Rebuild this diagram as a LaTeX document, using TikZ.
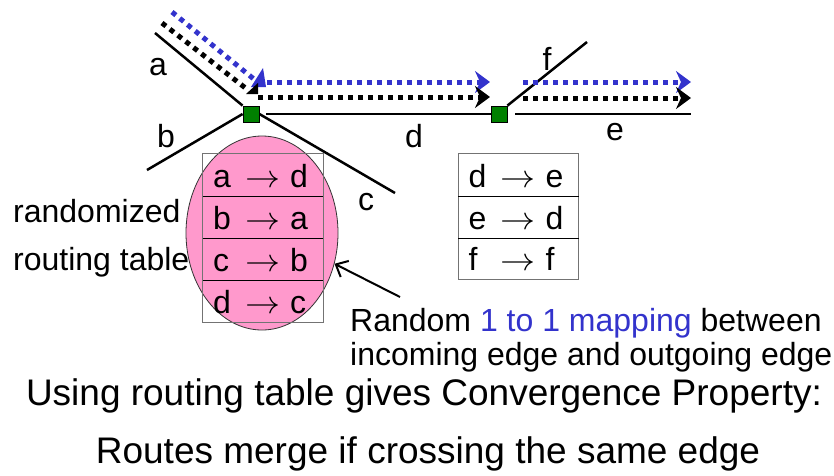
\documentclass[tikz,border=0pt]{standalone}
\usepackage{fontspec}
\setmainfont{Liberation Sans}
\usetikzlibrary{arrows.meta,shapes.geometric}
\definecolor{routeblue}{RGB}{51,51,204}
\definecolor{tablepink}{RGB}{255,153,204}
\definecolor{nodegreen}{RGB}{0,128,0}
\newcommand{\maparrow}{\scalebox{3.5}[3.2]{\fontsize{10}{12}\selectfont$\rightarrow$}}
\newcommand{\maprow}[2]{\makebox[120pt][l]{\hspace*{10pt}\makebox[32pt][l]{#1}\makebox[35pt]{\maparrow}\hspace*{10pt}#2}}
\begin{document}
\begin{tikzpicture}[x=1pt,y=-1pt,
  edge/.style={line width=2.5pt},
  router/.style={draw=black, line width=0.8pt, fill=nodegreen, minimum size=16pt, inner sep=0pt},
  route/.style={line width=5pt, dash pattern=on 5pt off 5pt,
    -{Stealth[length=15pt,width=22pt,inset=5pt]}},
  leg/.style={line width=5pt, dash pattern=on 5pt off 5pt},
  lbl/.style={font=\fontsize{32}{38}\selectfont, anchor=base, inner sep=0pt},
  note/.style={font=\fontsize{32}{38}\selectfont, anchor=base west, inner sep=0pt},
  caption/.style={font=\fontsize{37}{44}\selectfont, anchor=base, inner sep=0pt},
  maprowbox/.style={font=\fontsize{32}{38}\selectfont, inner sep=0pt,
    text height=33pt, text depth=9pt},
  tableframe/.style={draw=black!55, line width=1.2pt},
  rowline/.style={draw=black, line width=1.2pt}
]
\useasboundingbox (0,0) rectangle (834,475);

% randomized routing table of the left router
\node[ellipse, draw=black!80, line width=0.8pt, fill=tablepink,
  minimum width=152pt, minimum height=194pt, inner sep=0pt] (blob) at (262,233) {};
\node[maprowbox] (l1) at (263,175) {\maprow{a}{d}};
\node[maprowbox] (l2) at (263,217) {\maprow{b}{a}};
\node[maprowbox] (l3) at (263,259) {\maprow{c}{b}};
\node[maprowbox] (l4) at (263,301) {\maprow{d}{c}};
\draw[tableframe] (l1.north west) rectangle (l4.south east);
\draw[rowline] (l1.south west) -- (l1.south east);
\draw[rowline] (l2.south west) -- (l2.south east);
\draw[rowline] (l3.south west) -- (l3.south east);

% routing table of the right router
\node[maprowbox] (r1) at (518.5,175) {\maprow{d}{e}};
\node[maprowbox] (r2) at (518.5,217) {\maprow{e}{d}};
\node[maprowbox] (r3) at (518.5,258) {\maprow{f}{f}};
\draw[tableframe] (r1.north west) rectangle (r3.south east);
\draw[rowline] (r1.south west) -- (r1.south east);
\draw[rowline] (r2.south west) -- (r2.south east);

% routers
\node[router] (n1) at (251,114) {};
\node[router] (n2) at (499,114) {};
\coordinate (aEnd) at (155,33);
\coordinate (bEnd) at (147,170);
\coordinate (cEnd) at (395,193);
\coordinate (eEnd) at (691,114);
\coordinate (fEnd) at (587,42);

% edges
\draw[edge] (aEnd) -- (n1.north west);
\draw[edge] (bEnd) -- (n1.west);
\draw[edge] (n1.east) -- (cEnd);
\draw[edge] ([xshift=7pt]n1.east) -- (n2.west);
\draw[edge] ([xshift=8pt]n2.east) -- (eEnd);
\draw[edge] (n2.north east) -- (fEnd);
\node[router] at (n1) {};
\node[router] at (n2) {};

% edge labels
\node[lbl] (la) at (158,75) {a};
\node[lbl] (lb) at (166,147) {b};
\node[lbl] (lc) at (366,210) {c};
\node[lbl] (ld) at (414,147) {d};
\node[lbl] (le) at (615,140) {e};
\node[lbl] (lf) at (547,70) {f};

% two routes that merge on edge d
\coordinate (blueIn) at (172,12);
\coordinate (blueBend) at (255,80);
\coordinate (blueD) at (267,82);
\coordinate (blueDEnd) at (490,82);
\coordinate (blueE) at (523,82);
\coordinate (blueEEnd) at (691,82);
\coordinate (blackIn) at (162,23);
\coordinate (blackBend) at (248,90);
\coordinate (blackD) at (258,97);
\coordinate (blackDEnd) at (490,97);
\coordinate (blackE) at (523,98);
\coordinate (blackEEnd) at (691,98);

\draw[leg, routeblue] (blueIn) -- (blueBend);
\fill[routeblue] (263,68) -- (251,87) -- (266,87) -- cycle;
\draw[route, routeblue] (blueD) -- (blueDEnd);
\draw[route, routeblue] (blueE) -- (blueEEnd);
\draw[leg, black] (blackIn) -- (blackBend);
\fill[black] (258,83) -- (246,94) -- (258,94) -- cycle;
\draw[route, black] (blackD) -- (blackDEnd);
\draw[route, black] (blackE) -- (blackEEnd);

% side labels and note
\node[note] (t1) at (13,222) {randomized};
\node[note] (t2) at (13,270) {routing table};
\node[note] (m1) at (350,331) {Random {\color{routeblue}1 to 1 mapping} between};
\node[note] (m2) at (350,365) {incoming edge and outgoing edge};
\coordinate (mTail) at (400,297);
\draw[line width=2pt, -{Straight Barb[length=10pt,width=18pt]}] (mTail) -- (blob.-23);

% captions
\node[caption] (cap1) at (424,405) {Using routing table gives Convergence Property:};
\node[caption] (cap2) at (428,463) {Routes merge if crossing the same edge};
\end{tikzpicture}
\end{document}
